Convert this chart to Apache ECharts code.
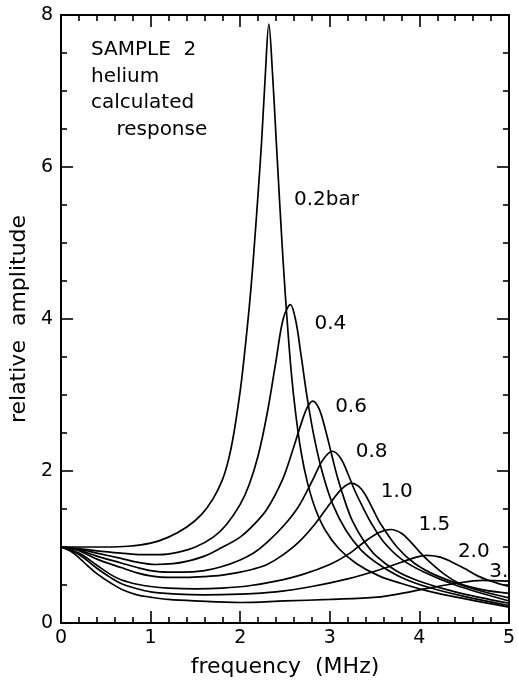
<!DOCTYPE html>
<html>
<head>
<meta charset="UTF-8">
<title>calculated response</title>
<script src="https://cdn.jsdelivr.net/npm/echarts@6/dist/echarts.min.js"></script>
<style>
  html, body { margin: 0; padding: 0; background: #fff; }
  #main { width: 518px; height: 683px; }
</style>
</head>
<body>
<div id="main"></div>
<script type="text/javascript">
// curves: [frequency MHz, relative amplitude]
var c02 = [[0,1.00],[0.25,1.00],[0.5,1.00],[0.75,1.01],[1.0,1.05],[1.2,1.13],[1.4,1.26],[1.57,1.43],[1.7,1.64],[1.8,1.88],[1.87,2.15],[1.93,2.5],[2.0,3.05],[2.04,3.45],[2.08,3.9],[2.12,4.4],[2.16,5.0],[2.2,5.65],[2.24,6.35],[2.28,7.2],[2.32,7.88],[2.36,7.25],[2.4,6.4],[2.44,5.55],[2.48,4.75],[2.52,4.05],[2.57,3.3],[2.62,2.75],[2.68,2.25],[2.75,1.85],[2.84,1.5],[2.95,1.22],[3.1,0.98],[3.3,0.78],[3.55,0.62],[3.8,0.52],[4.1,0.42],[4.5,0.32],[5.0,0.21]];
var c04 = [[0,1],[0.2,0.98],[0.4,0.95],[0.67,0.92],[0.9,0.9],[1.1,0.9],[1.3,0.93],[1.5,1.0],[1.7,1.13],[1.85,1.3],[2.0,1.56],[2.1,1.82],[2.2,2.2],[2.3,2.75],[2.4,3.45],[2.48,4.0],[2.56,4.19],[2.62,3.98],[2.68,3.52],[2.75,2.95],[2.83,2.42],[2.92,1.97],[3.03,1.57],[3.18,1.22],[3.35,0.96],[3.55,0.77],[3.8,0.6],[4.1,0.47],[4.5,0.35],[5,0.23]];
var c06 = [[0,1],[0.2,0.97],[0.4,0.92],[0.67,0.85],[0.85,0.8],[1.05,0.77],[1.25,0.78],[1.4,0.81],[1.6,0.88],[1.79,0.99],[2.0,1.13],[2.15,1.29],[2.3,1.5],[2.47,1.88],[2.58,2.25],[2.68,2.62],[2.75,2.84],[2.81,2.92],[2.88,2.82],[2.95,2.55],[3.02,2.22],[3.09,1.9],[3.17,1.6],[3.25,1.35],[3.37,1.1],[3.52,0.88],[3.75,0.68],[4.0,0.55],[4.4,0.41],[5,0.26]];
var c08 = [[0,1],[0.2,0.96],[0.4,0.88],[0.67,0.79],[0.85,0.73],[1.0,0.69],[1.2,0.67],[1.35,0.67],[1.6,0.69],[1.79,0.74],[2.0,0.83],[2.15,0.92],[2.3,1.06],[2.5,1.3],[2.65,1.53],[2.8,1.86],[2.92,2.14],[3.03,2.26],[3.12,2.17],[3.2,1.97],[3.28,1.74],[3.37,1.52],[3.47,1.3],[3.6,1.07],[3.8,0.84],[4.05,0.67],[4.4,0.5],[5,0.29]];
var c10 = [[0,1],[0.2,0.95],[0.4,0.84],[0.67,0.73],[0.85,0.66],[1.0,0.62],[1.2,0.6],[1.4,0.6],[1.6,0.61],[1.8,0.63],[2.0,0.67],[2.15,0.71],[2.3,0.77],[2.47,0.89],[2.65,1.06],[2.84,1.31],[3.02,1.6],[3.14,1.77],[3.24,1.84],[3.32,1.8],[3.39,1.7],[3.48,1.5],[3.57,1.3],[3.75,1.0],[3.94,0.79],[4.2,0.62],[4.6,0.45],[5,0.33]];
var c15 = [[0,1],[0.2,0.92],[0.4,0.76],[0.55,0.64],[0.67,0.57],[0.85,0.51],[1.0,0.48],[1.2,0.46],[1.5,0.45],[1.8,0.46],[2.1,0.49],[2.4,0.55],[2.7,0.64],[3.0,0.77],[3.2,0.9],[3.39,1.07],[3.55,1.19],[3.68,1.23],[3.8,1.18],[3.9,1.07],[4.0,0.94],[4.1,0.82],[4.27,0.65],[4.45,0.52],[4.7,0.44],[5,0.39]];
var c20 = [[0,1],[0.2,0.9],[0.4,0.72],[0.55,0.6],[0.67,0.52],[0.85,0.45],[1.0,0.41],[1.3,0.38],[1.6,0.37],[2.0,0.38],[2.4,0.41],[2.8,0.48],[3.2,0.58],[3.53,0.69],[3.8,0.8],[3.95,0.86],[4.08,0.89],[4.22,0.87],[4.35,0.81],[4.5,0.72],[4.65,0.62],[4.8,0.55],[5,0.48]];
var c30 = [[0,1],[0.1,0.95],[0.2,0.86],[0.3,0.75],[0.4,0.65],[0.55,0.53],[0.7,0.43],[0.85,0.37],[1.0,0.34],[1.2,0.31],[1.5,0.29],[2.0,0.27],[2.5,0.29],[3.0,0.31],[3.53,0.34],[3.8,0.39],[4.1,0.46],[4.4,0.52],[4.7,0.56],[5,0.55]];

var curves = [c02, c04, c06, c08, c10, c15, c20, c30];
// pressure labels and where they sit (data coords)
var labelText = ['0.2bar', '0.4', '0.6', '0.8', '1.0', '1.5', '2.0', '3.'];
var labelPos = [[2.60,5.57],[2.83,3.94],[3.06,2.85],[3.29,2.25],[3.57,1.73],[3.99,1.29],[4.43,0.94],[4.78,0.67]];
var xTicks = ['0', '1', '2', '3', '4', '5'];
var noteLines = ['SAMPLE  2', 'helium', 'calculated', '    response'];

var font = 'DejaVu Sans';
var chart = echarts.init(document.getElementById('main'));

var series = [];
for (var i = 0; i < curves.length; i++) {
  series.push({
    type: 'line',
    data: curves[i],
    smooth: 0.35,
    showSymbol: false,
    silent: true,
    lineStyle: { color: '#000', width: 1.7 }
  });
}

var axisCommon = {
  axisLine: { show: true, onZero: false, lineStyle: { color: '#000', width: 2 } },
  splitLine: { show: false },
  axisTick: { show: true, inside: true, length: 12, lineStyle: { color: '#000', width: 1.6 } },
  minorTick: { show: true, length: 6, lineStyle: { color: '#000', width: 1.6 } }
};

function xAxis(pos, showLabel) {
  return Object.assign({}, axisCommon, {
    type: 'value', position: pos, min: 0, max: 5, interval: 1,
    minorTick: Object.assign({}, axisCommon.minorTick, { splitNumber: 5 }),
    axisLabel: {
      show: showLabel, margin: 6, color: '#000', fontFamily: font, fontSize: 19,
      formatter: function (v) { return xTicks[Math.round(v)]; }
    },
    name: showLabel ? 'frequency  (MHz)' : '',
    nameLocation: 'middle',
    nameGap: 33,
    nameTextStyle: { color: '#000', fontFamily: font, fontSize: 22 }
  });
}
function yAxis(pos, showLabel) {
  return Object.assign({}, axisCommon, {
    type: 'value', position: pos, min: 0, max: 8, interval: 2,
    minorTick: Object.assign({}, axisCommon.minorTick, { splitNumber: 4 }),
    axisLabel: { show: showLabel, margin: 8, color: '#000', fontFamily: font, fontSize: 19 },
    name: showLabel ? 'relative  amplitude' : '',
    nameLocation: 'middle',
    nameGap: 28,
    nameTextStyle: { color: '#000', fontFamily: font, fontSize: 22 }
  });
}

chart.setOption({
  animation: false,
  backgroundColor: '#fff',
  grid: { left: 60, right: 4, top: 15, bottom: 60 },
  xAxis: [xAxis('bottom', true), xAxis('top', false)],
  yAxis: [yAxis('left', true), yAxis('right', false)],
  series: series
});

// text: note block at top left, and pressure labels placed through the axes
var graphics = noteLines.map(function (t, i) {
  return {
    type: 'text', left: 91, top: 40 + i * 26.5,
    style: { text: t, fill: '#000', font: '20px "' + font + '"' }
  };
});
labelPos.forEach(function (p, i) {
  var px = chart.convertToPixel({ gridIndex: 0 }, p);
  graphics.push({
    type: 'text', x: px[0], y: px[1],
    style: { text: labelText[i], fill: '#000', font: '20px "' + font + '"', verticalAlign: 'middle', align: 'left' }
  });
});
chart.setOption({ graphic: graphics });
</script>
</body>
</html>
